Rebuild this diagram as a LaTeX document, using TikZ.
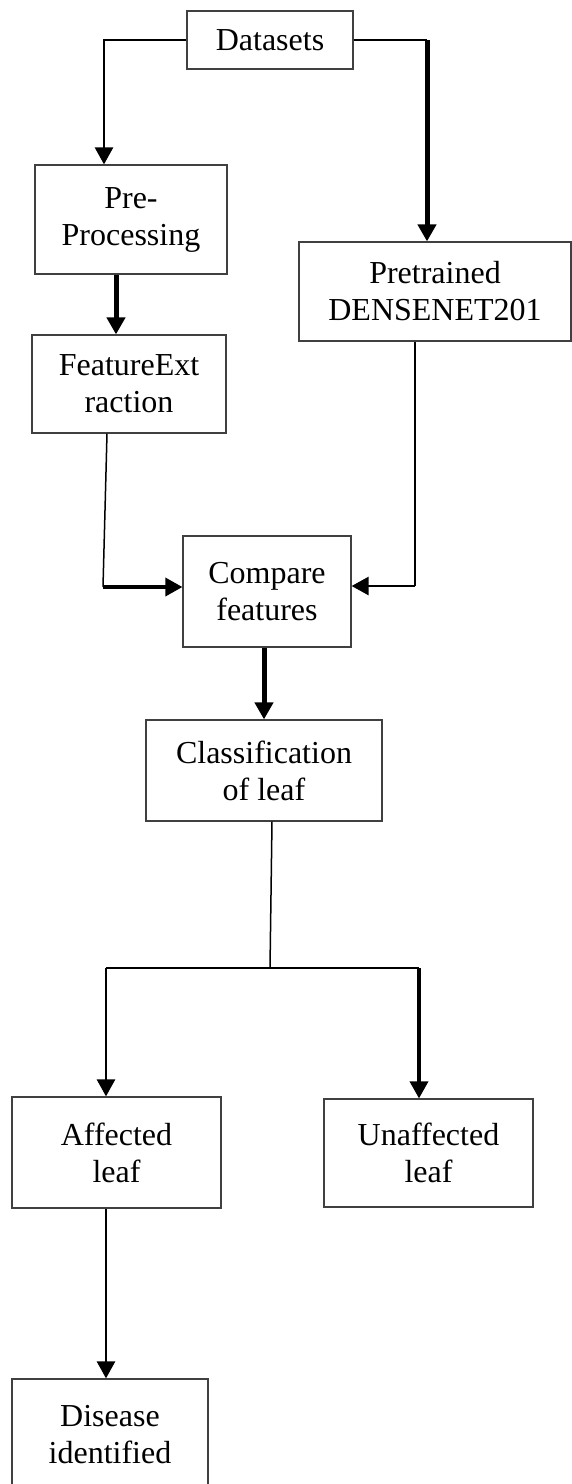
\documentclass[tikz,border=0pt]{standalone}
\usepackage{fontspec}
\setmainfont{Liberation Serif}
\usetikzlibrary{arrows.meta}
\definecolor{boxgray}{HTML}{404040}
\begin{document}
\begin{tikzpicture}[x=1pt,y=-1pt,
  box/.style={draw=boxgray, line width=1.2pt, inner sep=0pt, align=center,
              font=\fontsize{32}{37}\selectfont},
  thinline/.style={line width=1.5pt},
  conn/.style={line width=2.6pt},
  conntwo/.style={line width=3.5pt},
  heavy/.style={line width=5pt},
  tip/.style={-{Triangle[length=17pt,width=18pt]}}]
\useasboundingbox (0,0) rectangle (572,1484);
\begin{scope}
\clip (0,0) rectangle (572,1484);
% boxes
\node[box, minimum width=166pt, minimum height=58pt] (ds) at (270,40) {Datasets};
\node[box, minimum width=192pt, minimum height=109pt] (pp) at (131,219.5) {Pre-\\Processing};
\node[box, minimum width=194pt, minimum height=98pt] (fe) at (129,384) {FeatureExt\\raction};
\node[box, minimum width=272pt, minimum height=99pt] (pt) at (435,291.5) {Pretrained\\DENSENET201};
\node[box, minimum width=168pt, minimum height=111pt] (cf) at (267,591.5) {Compare\\features};
\node[box, minimum width=236pt, minimum height=101pt] (cl) at (264,770.5) {Classification\\of leaf};
\node[box, minimum width=209pt, minimum height=111pt] (af) at (116.5,1152.5) {Affected\\leaf};
\node[box, minimum width=209pt, minimum height=108pt] (ua) at (428.5,1153) {Unaffected\\leaf};
\node[box, minimum width=196pt, minimum height=111pt] (di) at (110,1434.5) {Disease\\identified};
% helper coordinates
\coordinate (dl) at (104,40);
\coordinate (dr) at (427,40);
\coordinate (xa) at (116,0);
\coordinate (fb) at (107,0);
\coordinate (fl) at (103,587);
\coordinate (pb) at (415,586);
\coordinate (xc) at (264,0);
\coordinate (xs) at (272,0);
\coordinate (sp) at (270,968);
\coordinate (sl) at (106,968);
\coordinate (sr) at (419,968);
\coordinate (xd) at (106,0);
% connectors
\draw[conn, tip] (ds.west) -- (dl) -- (dl |- pp.north);
\draw[conn] (ds.east) -- (dr);
\draw[heavy, tip] (dr) -- (dr |- pt.north);
\draw[heavy, tip] (pp.south -| xa) -- (fe.north -| xa);
\draw[thinline] (fe.south -| fb) -- (fl);
\draw[conntwo, tip] (fl) -- (fl -| cf.west);
\draw[thinline] (pt.south -| pb) -- (pb);
\draw[conn, tip] (pb) -- (pb -| cf.east);
\draw[heavy, tip] (cf.south -| xc) -- (cl.north -| xc);
\draw[thinline] (cl.south -| xs) -- (sp);
\draw[conn] (sl) -- (sr);
\draw[conn, tip] (sl) -- (sl |- af.north);
\draw[conntwo, tip] (sr) -- (sr |- ua.north);
\draw[conn, tip] (af.south -| xd) -- (di.north -| xd);
\end{scope}
\end{tikzpicture}
\end{document}
